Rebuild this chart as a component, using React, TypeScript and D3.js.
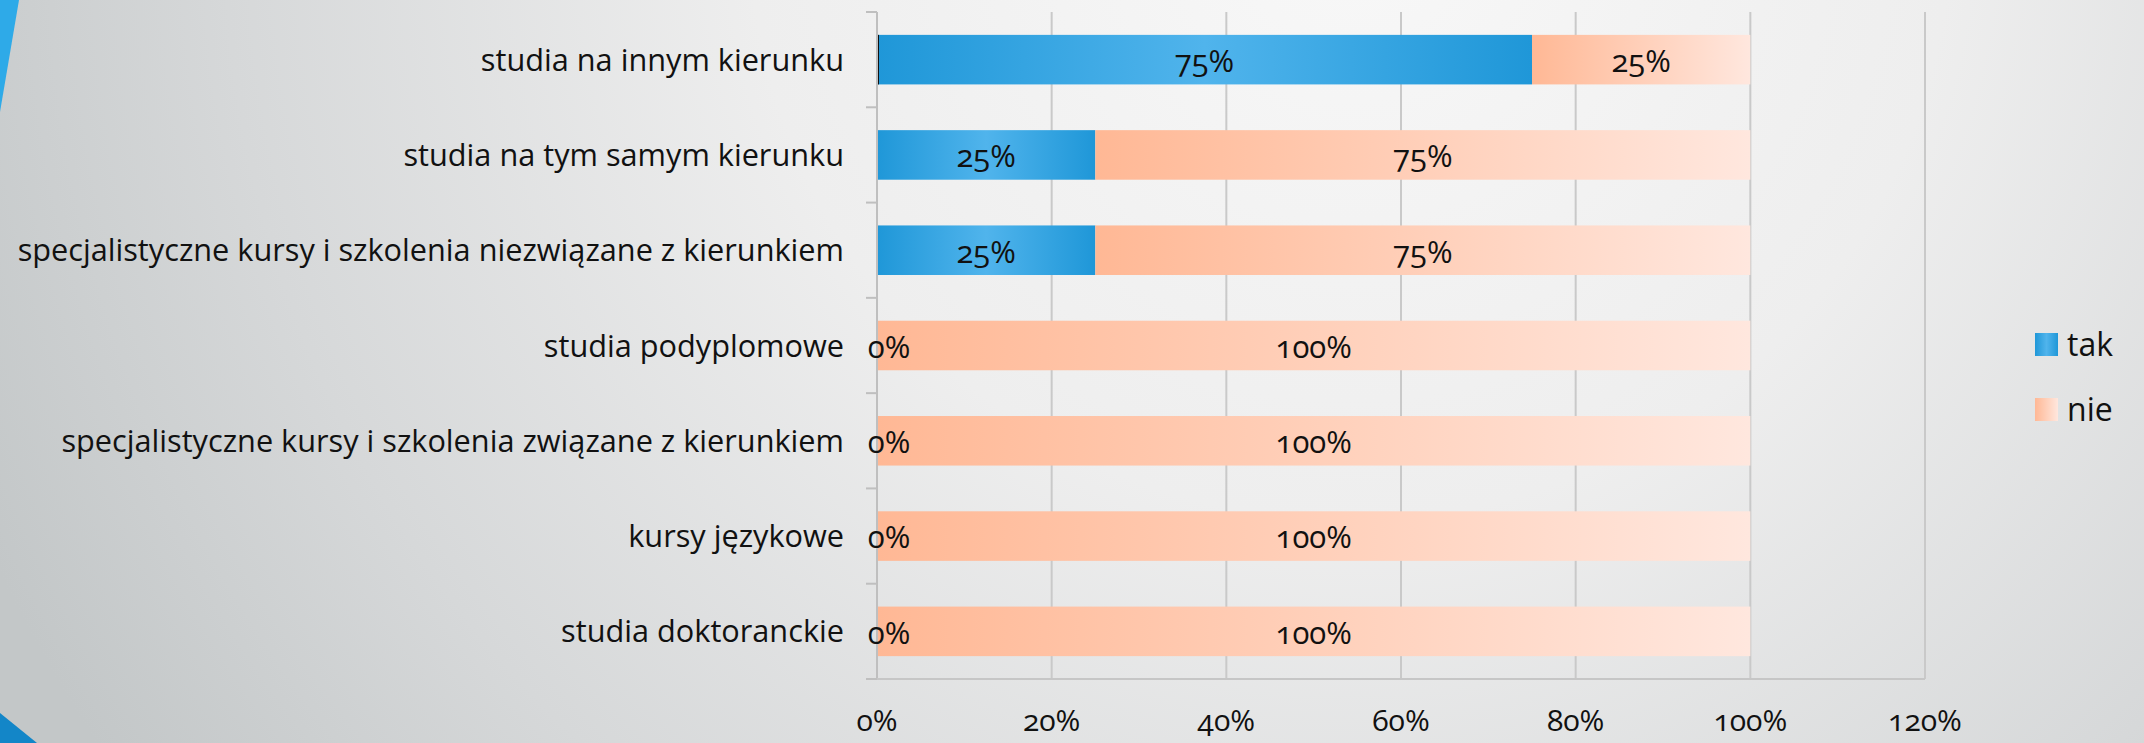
import React from "react";
import * as d3 from "d3";

const categories = [
  "studia na innym kierunku",
  "studia na tym samym kierunku",
  "specjalistyczne kursy i szkolenia niezwiązane z kierunkiem",
  "studia podyplomowe",
  "specjalistyczne kursy i szkolenia związane z kierunkiem",
  "kursy językowe",
  "studia doktoranckie",
];
const takValues = [0.75, 0.25, 0.25, 0, 0, 0, 0];
const nieValues = [0.25, 0.75, 0.75, 1, 1, 1, 1];
const seriesNames = ["tak", "nie"];
const xTickValues = [0, 0.2, 0.4, 0.6, 0.8, 1.0, 1.2];

const W = 2144;
const H = 743;
const FONT = "'Open Sans', 'DejaVu Sans', sans-serif";

export default function App() {
  const x = d3.scaleLinear().domain([0, 1.2]).range([877, 1925]);
  const y = d3
    .scaleBand<string>()
    .domain(categories)
    .range([12, 679])
    .paddingInner(0.48)
    .paddingOuter(0.24);
  const step = y.step();
  const top = 12;
  const bottom = 679;
  const pct = d3.format(".0%");

  const rows = categories.map((c, i) => ({
    cat: c,
    tak: takValues[i],
    nie: nieValues[i],
  }));
  const stack = d3.stack<any>().keys(["tak", "nie"])(rows);

  const boundaries = d3.range(categories.length + 1).map((i) => top + i * step);

  return (
    <svg
      width={W}
      height={H}
      style={{ position: "absolute", left: 0, top: 0, display: "block" }}
      fontFamily={FONT}
    >
      <defs>
        <radialGradient id="bg" gradientUnits="userSpaceOnUse" cx={1350} cy={-80} r={1500}>
          <stop offset="0" stopColor="#f8f8f8" />
          <stop offset="0.4" stopColor="#eeeeee" />
          <stop offset="0.75" stopColor="#d6d8d9" />
          <stop offset="1" stopColor="#c3c7c8" />
        </radialGradient>
        <linearGradient id="blue" x1="0" x2="1" y1="0" y2="0">
          <stop offset="0" stopColor="#1f97d8" />
          <stop offset="0.5" stopColor="#50b4ec" />
          <stop offset="1" stopColor="#1f97d8" />
        </linearGradient>
        <linearGradient id="salmon" x1="0" x2="1" y1="0" y2="0">
          <stop offset="0" stopColor="#ffb895" />
          <stop offset="1" stopColor="#ffe7de" />
        </linearGradient>
      </defs>

      <rect x={0} y={0} width={W} height={H} fill="url(#bg)" />
      {/* decorative shapes */}
      <path d="M0,0 L19,0 L0,112 Z" fill="#2eaae8" />
      <path d="M0,713 L37,743 L0,743 Z" fill="#1386c8" />

      {/* gridlines */}
      {xTickValues.slice(1).map((v) => (
        <line
          key={"g" + v}
          x1={x(v)}
          x2={x(v)}
          y1={top}
          y2={bottom}
          stroke="#c9c9c9"
          strokeWidth={2}
        />
      ))}

      {/* bars */}
      {stack.map((s, si) =>
        s.map((d, i) => {
          const w = x(d[1]) - x(d[0]);
          if (w <= 0) return null;
          return (
            <rect
              key={si + "-" + i}
              x={x(d[0])}
              y={y(categories[i])}
              width={w}
              height={y.bandwidth()}
              fill={si === 0 ? "url(#blue)" : "url(#salmon)"}
            />
          );
        })
      )}
      {/* small dark edge on the first bar */}
      <rect
        x={x(0)}
        y={y(categories[0])}
        width={2}
        height={y.bandwidth()}
        fill="#111"
      />

      {/* axes */}
      <line x1={x(0)} x2={x(0)} y1={top} y2={bottom} stroke="#bfbfbf" strokeWidth={2} />
      <line x1={866} x2={x(1.2)} y1={bottom} y2={bottom} stroke="#c6c6c6" strokeWidth={2} />
      {boundaries.map((b, i) => (
        <line key={"t" + i} x1={866} x2={x(0)} y1={b} y2={b} stroke="#bfbfbf" strokeWidth={2} />
      ))}

      {/* category labels */}
      {categories.map((c) => (
        <text
          key={c}
          x={844}
          y={(y(c) as number) + y.bandwidth() / 2}
          dy="0.36em"
          textAnchor="end"
          fontSize={30.7}
          fill="#111"
        >
          {c}
        </text>
      ))}

      {/* data labels */}
      {stack.map((s, si) =>
        s.map((d, i) => {
          const v = d[1] - d[0];
          const cx = v === 0 ? x(d[0]) + 12 : (x(d[0]) + x(d[1])) / 2;
          return (
            <text
              key={"l" + si + "-" + i}
              x={cx}
              y={(y(categories[i]) as number) + y.bandwidth() / 2}
              dy="0.4em"
              textAnchor="middle"
              fontSize={31}
              fill="#111"
              style={{ fontVariantNumeric: "oldstyle-nums" }}
            >
              {pct(v)}
            </text>
          );
        })
      )}

      {/* x tick labels */}
      {xTickValues.map((v) => (
        <text
          key={"x" + v}
          x={x(v)}
          y={731}
          textAnchor="middle"
          fontSize={30}
          fill="#111"
          style={{ fontVariantNumeric: "oldstyle-nums" }}
        >
          {pct(v)}
        </text>
      ))}

      {/* legend */}
      {seriesNames.map((n, i) => (
        <g key={n} transform={`translate(2035, ${333 + i * 65})`}>
          <rect width={23} height={23} fill={i === 0 ? "url(#blue)" : "url(#salmon)"} />
          <text x={32} y={11.5} dy="0.36em" fontSize={32} fill="#111">
            {n}
          </text>
        </g>
      ))}
    </svg>
  );
}
